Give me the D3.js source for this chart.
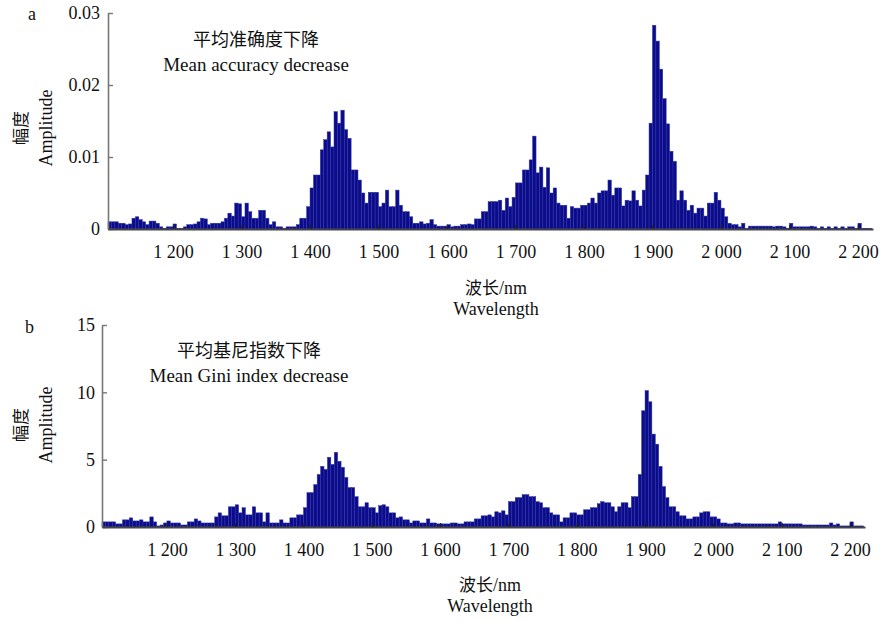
<!DOCTYPE html>
<html>
<head>
<meta charset="utf-8">
<script src="https://cdn.jsdelivr.net/npm/d3@7"></script>
<style>
  body { margin: 0; background: #fff; }
  svg text { font-family: "Liberation Serif", "Times New Roman", serif; fill: #111; }
  .cjk { font-family: "Noto Sans CJK SC", sans-serif; }
</style>
</head>
<body>
<script>
// wavelength grid, 5 nm steps
var wavelengths = d3.range(1105, 2216, 5);

// a: mean accuracy decrease
var accuracyDecrease = [
  .0010,.0010,.0010,.0008,.0008,.0006,.0007,.0015,.0017,.0013,.0010,.0006,.0011,.0011,.0008,.0003,.0001,.0003,.0003,.0007,
  .0001,.0001,.0003,.0006,.0006,.0007,.0010,.0015,.0014,.0006,.0008,.0008,.0008,.0010,.0015,.0022,.0018,.0036,.0035,.0017,
  .0036,.0024,.0015,.0015,.0026,.0026,.0015,.0006,.0010,.0003,.0003,.0001,.0003,.0003,.0003,.0006,.0015,.0015,.0031,.0057,
  .0075,.0075,.0110,.0124,.0135,.0114,.0163,.0147,.0165,.0138,.0126,.0082,.0082,.0068,.0050,.0036,.0051,.0051,.0051,.0031,
  .0036,.0054,.0031,.0031,.0054,.0033,.0024,.0024,.0017,.0008,.0008,.0010,.0007,.0008,.0013,.0006,.0004,.0004,.0004,.0006,
  .0003,.0004,.0004,.0006,.0006,.0007,.0006,.0014,.0014,.0024,.0024,.0038,.0038,.0038,.0040,.0026,.0043,.0031,.0044,.0064,
  .0064,.0082,.0082,.0096,.0129,.0078,.0086,.0058,.0085,.0050,.0057,.0036,.0033,.0033,.0015,.0031,.0029,.0029,.0033,.0033,
  .0036,.0043,.0036,.0050,.0053,.0053,.0068,.0047,.0057,.0057,.0032,.0040,.0039,.0053,.0040,.0032,.0054,.0075,.0147,.0283,
  .0261,.0222,.0181,.0146,.0108,.0094,.0040,.0053,.0040,.0026,.0033,.0022,.0029,.0029,.0018,.0036,.0036,.0051,.0040,.0029,
  .0017,.0008,.0006,.0006,.0003,.0008,.0001,.0004,.0004,.0004,.0004,.0004,.0004,.0004,.0003,.0004,.0004,.0003,.0001,.0008,
  .0003,.0003,.0003,.0003,.0003,.0004,.0003,.0001,.0003,.0001,.0003,.0001,.0003,.0001,.0003,.0001,.0003,.0003,.0001,.0008,
  .0001,.0001,.0001
];

// b: mean Gini index decrease
var giniDecrease = [
  0.38,0.38,0.38,0.38,0.23,0.23,0.53,0.53,0.68,0.45,0.45,0.53,0.38,0.38,0.75,0.38,0.08,0.15,0.30,0.45,
  0.30,0.30,0.30,0.15,0.15,0.38,0.38,0.60,0.45,0.30,0.30,0.30,0.30,0.75,1.05,0.83,0.83,1.50,1.50,1.65,
  1.05,1.43,0.90,0.90,1.50,1.05,1.05,0.38,1.05,0.30,0.30,0.30,0.53,0.30,0.30,0.68,0.68,0.90,0.90,1.43,
  2.55,2.55,3.15,3.90,4.50,4.28,5.18,4.65,5.55,4.88,4.43,3.68,2.93,2.93,2.25,1.50,1.50,1.80,1.43,1.43,
  1.05,1.58,1.65,1.50,1.05,1.05,0.68,0.75,0.53,0.53,0.30,0.45,0.45,0.30,0.30,0.60,0.30,0.30,0.23,0.23,
  0.23,0.23,0.30,0.30,0.23,0.23,0.38,0.38,0.38,0.60,0.60,0.83,0.83,0.90,0.75,1.13,1.05,1.20,0.90,1.88,
  1.88,2.18,2.18,2.40,2.40,2.25,2.25,1.88,1.80,1.43,1.43,1.05,0.90,0.90,0.38,0.68,0.68,1.05,1.05,0.90,
  0.90,1.28,1.28,1.43,1.43,1.73,1.88,1.80,1.80,1.50,1.13,1.50,1.80,1.80,1.43,2.25,2.25,3.90,8.63,10.13,
  9.30,6.90,6.15,4.50,3.00,2.18,1.50,1.50,1.13,0.83,0.83,0.60,0.60,0.75,0.75,1.05,1.13,1.13,0.75,0.75,
  0.60,0.30,0.30,0.23,0.23,0.30,0.30,0.23,0.23,0.23,0.23,0.23,0.23,0.23,0.23,0.23,0.23,0.23,0.38,0.23,
  0.23,0.23,0.23,0.23,0.23,0.15,0.15,0.15,0.15,0.15,0.15,0.15,0.15,0.30,0.15,0.23,0.08,0.08,0.08,0.38,
  0.08,0.08,0.08
];

var xTicks = [1200, 1300, 1400, 1500, 1600, 1700, 1800, 1900, 2000, 2100, 2200];
var xTickLabels = ["1 200", "1 300", "1 400", "1 500", "1 600", "1 700", "1 800", "1 900", "2 000", "2 100", "2 200"];
var yTicksA = [0, 0.01, 0.02, 0.03];
var yTickLabelsA = ["0", "0.01", "0.02", "0.03"];
var yTicksB = [0, 5, 10, 15];
var yTickLabelsB = ["0", "5", "10", "15"];

var width = 881;
var height = 621;
var step = 5;

var svg = d3.select("body").append("svg")
    .attr("width", width)
    .attr("height", height);

function drawPanel(p) {
    var xScale = d3.scaleLinear()
        .domain([1105, 2222])
        .range([p.left, p.right]);
    var yScale = d3.scaleLinear()
        .domain([0, p.yMax])
        .range([p.bottom, p.top]);

    var g = svg.append("g");

    g.selectAll("rect")
        .data(p.values)
        .enter()
        .append("rect")
        .attr("x", function(d, i) { return xScale(wavelengths[i]); })
        .attr("width", function(d, i) { return xScale(wavelengths[i] + step) - xScale(wavelengths[i]); })
        .attr("y", function(d) { return yScale(d); })
        .attr("height", function(d) { return p.bottom - yScale(d); })
        .attr("fill", "#0b0b8b")
        .attr("stroke", "#2e37a2")
        .attr("stroke-width", 0.5);

    var yAxis = d3.axisLeft(yScale)
        .tickValues(p.yTicks)
        .tickFormat(function(d, i) { return p.yLabels[i]; })
        .tickSizeInner(-5)
        .tickSizeOuter(0)
        .tickPadding(p.yPad);
    var yAxisG = g.append("g")
        .attr("transform", "translate(" + p.left + ",0)")
        .call(yAxis);
    yAxisG.select(".domain").attr("stroke", "#777").attr("stroke-width", 1.6);
    yAxisG.selectAll(".tick line").attr("stroke", "#777").attr("stroke-width", 1.4);
    yAxisG.selectAll("text").attr("font-size", 18).attr("font-family", "Liberation Serif");

    var xAxis = d3.axisBottom(xScale)
        .tickValues(xTicks)
        .tickFormat(function(d, i) { return xTickLabels[i]; })
        .tickSizeInner(-4)
        .tickSizeOuter(0)
        .tickPadding(16);
    var xAxisG = g.append("g")
        .attr("transform", "translate(0," + p.bottom + ")")
        .call(xAxis);
    xAxisG.select(".domain").attr("stroke", "#444").attr("stroke-width", 1.8);
    xAxisG.selectAll(".tick line").attr("stroke", "#222").attr("stroke-width", 1.4);
    xAxisG.selectAll("text").attr("font-size", 18).attr("font-family", "Liberation Serif");

    // panel letter
    g.append("text").attr("x", p.letterX).attr("y", p.letterY)
        .attr("font-size", 18).text(p.letter);

    // titles inside plot
    g.append("text").attr("class", "cjk")
        .attr("x", p.titleX).attr("y", p.titleY)
        .attr("text-anchor", "middle").attr("font-size", 18)
        .text(p.titleCn);
    g.append("text")
        .attr("x", p.titleX).attr("y", p.titleY + 25)
        .attr("text-anchor", "middle").attr("font-size", 19)
        .text(p.titleEn);

    // y label
    g.append("text").attr("class", "cjk")
        .attr("transform", "translate(27," + p.yLabelY + ") rotate(-90)")
        .attr("text-anchor", "middle").attr("font-size", 17)
        .text("幅度");
    g.append("text")
        .attr("transform", "translate(52," + p.yLabelY + ") rotate(-90)")
        .attr("text-anchor", "middle").attr("font-size", 18)
        .text("Amplitude");

    // x label
    var xl = g.append("text")
        .attr("x", p.xLabelX).attr("y", p.xLabelY)
        .attr("text-anchor", "middle").attr("font-size", 18);
    xl.append("tspan").attr("class", "cjk").attr("font-size", 17).text("波长");
    xl.append("tspan").text("/nm");
    g.append("text")
        .attr("x", p.xLabelX).attr("y", p.xLabelY + 21)
        .attr("text-anchor", "middle").attr("font-size", 18)
        .text("Wavelength");
}

drawPanel({
    values: accuracyDecrease, yMax: 0.03, yTicks: yTicksA, yLabels: yTickLabelsA, yPad: 8,
    left: 108, right: 873, top: 13, bottom: 229,
    letter: "a", letterX: 28, letterY: 20,
    titleCn: "平均准确度下降", titleEn: "Mean accuracy decrease", titleX: 256, titleY: 46,
    yLabelY: 128, xLabelX: 496, xLabelY: 294
});

drawPanel({
    values: giniDecrease, yMax: 15, yTicks: yTicksB, yLabels: yTickLabelsB, yPad: 7,
    left: 102, right: 865, top: 325, bottom: 527,
    letter: "b", letterX: 25, letterY: 333,
    titleCn: "平均基尼指数下降", titleEn: "Mean Gini index decrease", titleX: 249, titleY: 357,
    yLabelY: 425, xLabelX: 490, xLabelY: 591
});
</script>
</body>
</html>
